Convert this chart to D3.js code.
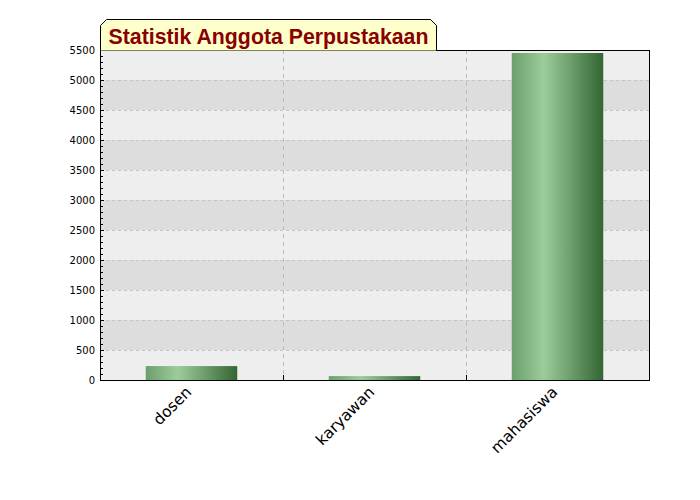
<!DOCTYPE html>
<html>
<head>
<meta charset="utf-8">
<script src="https://cdn.jsdelivr.net/npm/d3@7"></script>
<style>
  body { margin: 0; background: #fff; }
  text { font-family: 'DejaVu Sans', sans-serif; }
</style>
</head>
<body>
<svg width="700" height="500"></svg>
<script>
'use strict'

const categories = ['dosen', 'karyawan', 'mahasiswa'];
const values = [232, 65, 5450];
const yTicks = [0, 500, 1000, 1500, 2000, 2500, 3000, 3500, 4000, 4500, 5000, 5500];
const title = 'Statistik Anggota Perpustakaan';

let svg = d3.select('svg');
let mLeft = 100, mRight = 649, mTop = 50, mBottom = 380;

let x = d3.scaleBand().domain(categories).range([mLeft, mRight]);
let y = d3.scaleLinear().domain([0, 5500]).range([mBottom, mTop]);

let defs = svg.append('defs');
let grad = defs.append('linearGradient').attr('id', 'barGrad')
    .attr('x1', '0%').attr('x2', '100%').attr('y1', '0%').attr('y2', '0%');
grad.append('stop').attr('offset', '0%').attr('stop-color', '#6b9f6b');
grad.append('stop').attr('offset', '35%').attr('stop-color', '#9ccc9a');
grad.append('stop').attr('offset', '100%').attr('stop-color', '#336633');

// alternating bands
let bands = d3.range(0, 5500, 500);
svg.append('g').selectAll('rect')
    .data(bands)
    .enter().append('rect')
    .attr('x', mLeft)
    .attr('width', mRight - mLeft)
    .attr('y', d => y(d + 500))
    .attr('height', d => y(d) - y(d + 500))
    .attr('fill', (d, i) => i % 2 ? '#dddddd' : '#eeeeee');

// horizontal grid
svg.append('g').selectAll('line')
    .data(yTicks.slice(1, -1))
    .enter().append('line')
    .attr('x1', mLeft).attr('x2', mRight)
    .attr('y1', d => y(d) + 0.5).attr('y2', d => y(d) + 0.5)
    .attr('stroke', '#c4c4c4')
    .attr('stroke-dasharray', '3,3');

// vertical grid at band boundaries
let bounds = categories.slice(1).map(c => Math.round(x(c)) + 0.5);
svg.append('g').selectAll('line')
    .data(bounds)
    .enter().append('line')
    .attr('x1', d => d).attr('x2', d => d)
    .attr('y1', mTop).attr('y2', mBottom)
    .attr('stroke', '#bbbbbb')
    .attr('stroke-dasharray', '4,4');

// bars
svg.append('g').selectAll('rect')
    .data(values)
    .enter().append('rect')
    .attr('x', (d, i) => x(categories[i]) + x.bandwidth() * 0.25)
    .attr('width', x.bandwidth() * 0.5)
    .attr('y', d => y(d))
    .attr('height', d => mBottom - y(d))
    .attr('fill', 'url(#barGrad)');

// frame
svg.append('rect')
    .attr('x', mLeft + 0.5).attr('y', mTop + 0.5)
    .attr('width', mRight - mLeft).attr('height', mBottom - mTop)
    .attr('fill', 'none')
    .attr('stroke', '#000');

// y axis ticks (inward)
let minor = d3.range(0, 5501, 100);
svg.append('g').selectAll('line')
    .data(minor)
    .enter().append('line')
    .attr('x1', mLeft).attr('x2', d => d % 500 ? mLeft + 3 : mLeft + 4)
    .attr('y1', d => Math.round(y(d)) + 0.5).attr('y2', d => Math.round(y(d)) + 0.5)
    .attr('stroke', '#000');

svg.append('g').selectAll('text')
    .data(yTicks)
    .enter().append('text')
    .attr('x', mLeft - 5)
    .attr('y', d => y(d))
    .attr('dy', '0.35em')
    .attr('text-anchor', 'end')
    .attr('font-size', 10)
    .text(d => d);

// x ticks
svg.append('g').selectAll('line')
    .data(bounds)
    .enter().append('line')
    .attr('x1', d => d).attr('x2', d => d)
    .attr('y1', mBottom).attr('y2', mBottom - 5)
    .attr('stroke', '#000');

svg.append('g').selectAll('text')
    .data(categories)
    .enter().append('text')
    .attr('transform', d => 'translate(' + (x(d) + x.bandwidth() / 2 + 1) + ',' + (mBottom + 13) + ') rotate(-45)')
    .attr('text-anchor', 'end')
    .attr('font-size', 15.5)
    .text(d => d);

// title box
let tx = 100.5, ty = 19.5, tw = 336, th = 31, c = 6;
svg.append('path')
    .attr('d', 'M' + tx + ',' + (ty + th) + ' L' + tx + ',' + (ty + c) + ' L' + (tx + c) + ',' + ty +
        ' L' + (tx + tw - c) + ',' + ty + ' L' + (tx + tw) + ',' + (ty + c) + ' L' + (tx + tw) + ',' + (ty + th))
    .attr('fill', '#ffffcc')
    .attr('stroke', '#000');

svg.append('text')
    .attr('x', tx + 8)
    .attr('y', ty + 24)
    .attr('font-weight', 'bold')
    .attr('font-size', 21.3)
    .attr('fill', '#880000')
    .style('font-family', "'Liberation Sans', Arial, sans-serif")
    .text(title);
</script>
</body>
</html>
